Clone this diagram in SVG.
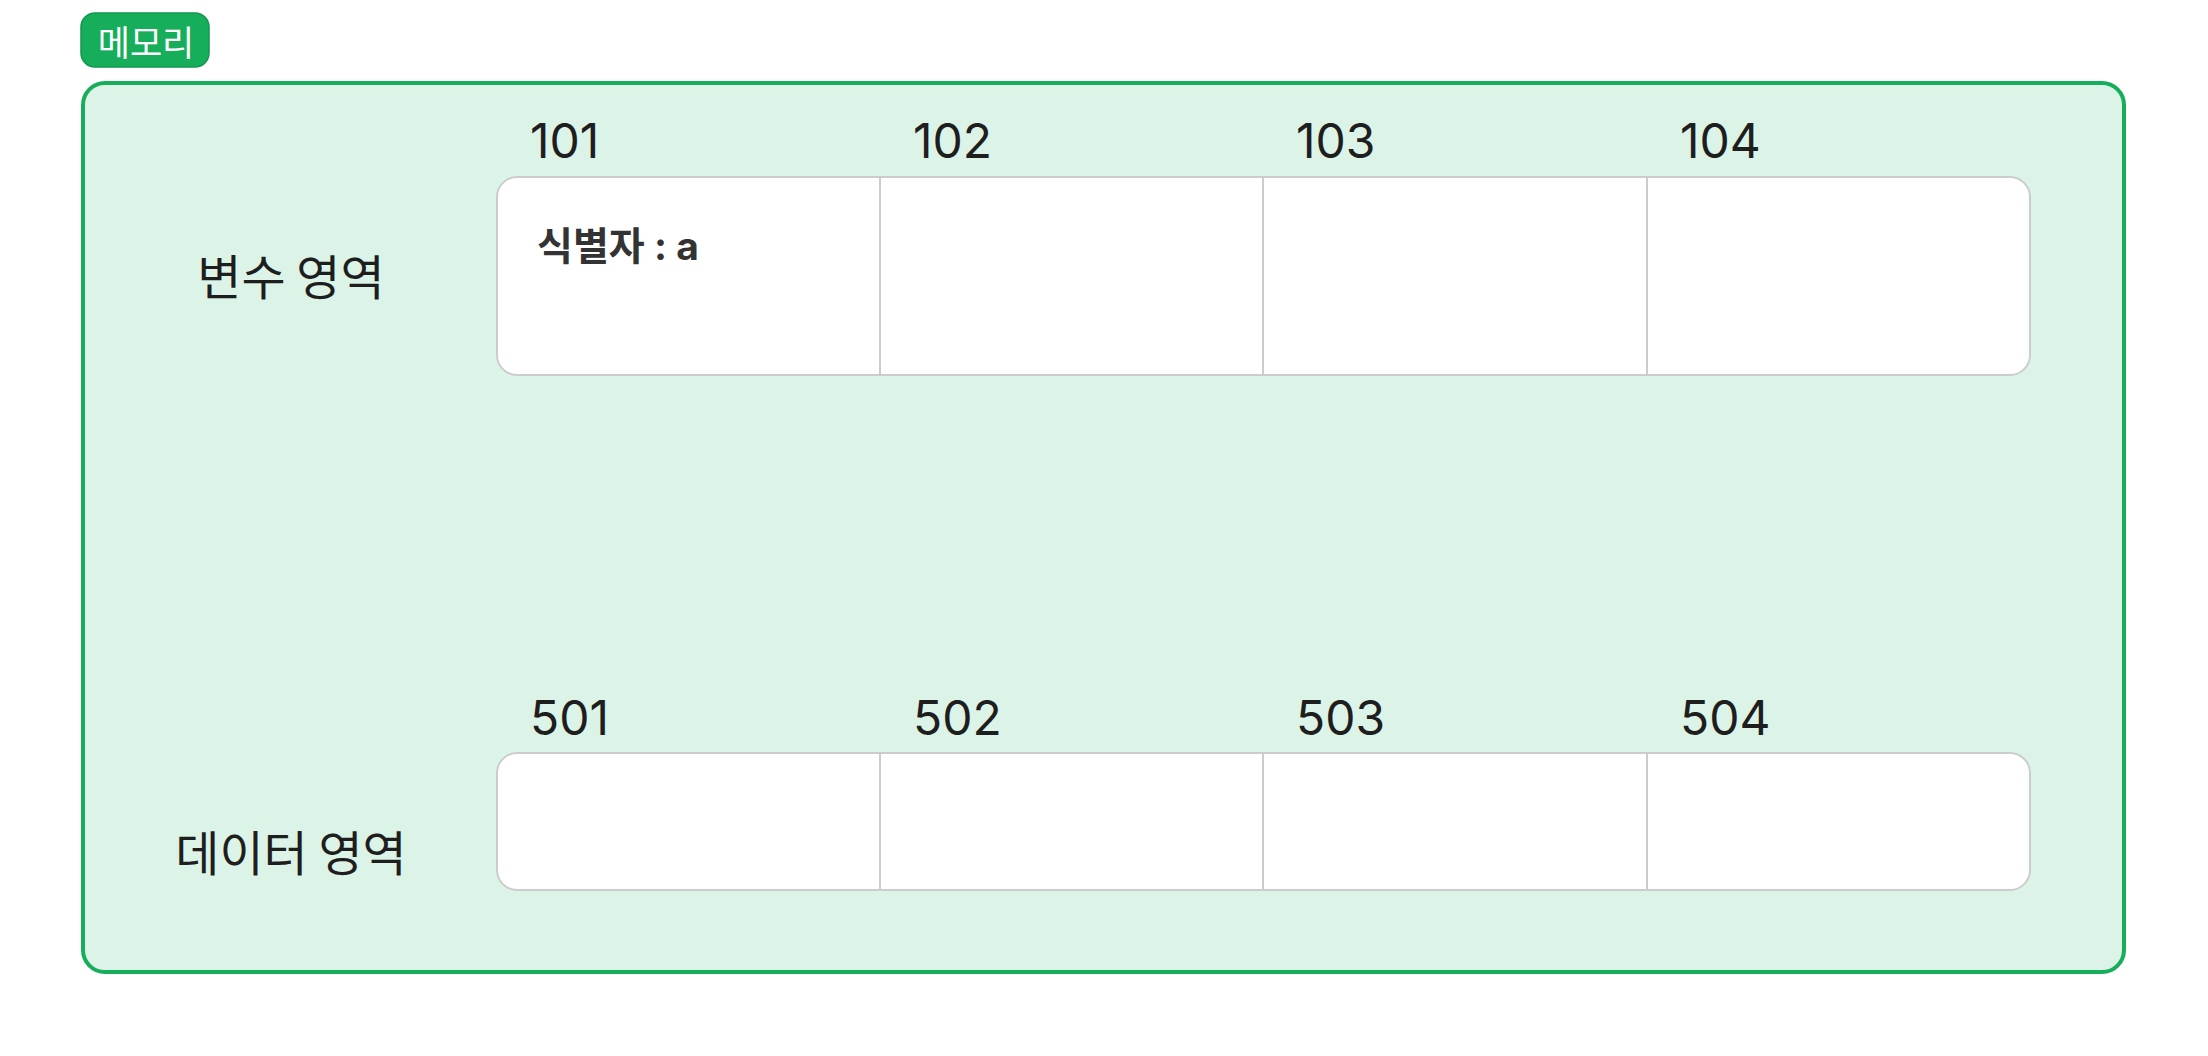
<svg xmlns="http://www.w3.org/2000/svg" width="2208" height="1056" viewBox="0 0 2208 1056">
<style>
.lbl{font-family:"Noto Sans CJK KR","Noto Sans",sans-serif;fill:#1e1e1e;}
.num{font-family:Inter,"Noto Sans CJK KR",sans-serif;font-size:48px;fill:#1e1e1e;}
.cells{fill:#ffffff;stroke:#cccccc;stroke-width:2;}
.div{stroke:#cccccc;stroke-width:2;}
</style>
<rect width="2208" height="1056" fill="#ffffff"/>
<g id="memory">
<rect x="83" y="83" width="2041" height="889" rx="22" fill="#dcf3e7" stroke="#17ae5b" stroke-width="4"/>
</g>
<g id="badge">
<rect x="81" y="13" width="128" height="54" rx="14" fill="#17ae5b" stroke="#12984e" stroke-width="1.5"/>
<text x="146" y="56" text-anchor="middle" font-family="'Noto Sans CJK KR',sans-serif" font-size="35" fill="#ffffff">메모리</text>
</g>
<g id="var-area">
<text class="lbl" x="291" y="295" text-anchor="middle" font-size="48">변수 영역</text>
<rect class="cells" x="497" y="177" width="1533" height="198" rx="20"/>
<line class="div" x1="880" y1="177" x2="880" y2="375"/>
<line class="div" x1="1263" y1="177" x2="1263" y2="375"/>
<line class="div" x1="1647" y1="177" x2="1647" y2="375"/>
<text class="num" x="530" y="158">101</text>
<text class="num" x="913" y="158">102</text>
<text class="num" x="1296" y="158">103</text>
<text class="num" x="1680" y="158">104</text>
<text x="537" y="260" font-family="Inter,'Noto Sans CJK KR',sans-serif" font-size="39" font-weight="bold" fill="#333333">식별자 : a</text>
</g>
<g id="data-area">
<text class="lbl" x="291" y="871" text-anchor="middle" font-size="48">데이터 영역</text>
<rect class="cells" x="497" y="753" width="1533" height="137" rx="20"/>
<line class="div" x1="880" y1="753" x2="880" y2="890"/>
<line class="div" x1="1263" y1="753" x2="1263" y2="890"/>
<line class="div" x1="1647" y1="753" x2="1647" y2="890"/>
<text class="num" x="530" y="735">501</text>
<text class="num" x="913" y="735">502</text>
<text class="num" x="1296" y="735">503</text>
<text class="num" x="1680" y="735">504</text>
</g>
<g id="connectors"/>
</svg>
